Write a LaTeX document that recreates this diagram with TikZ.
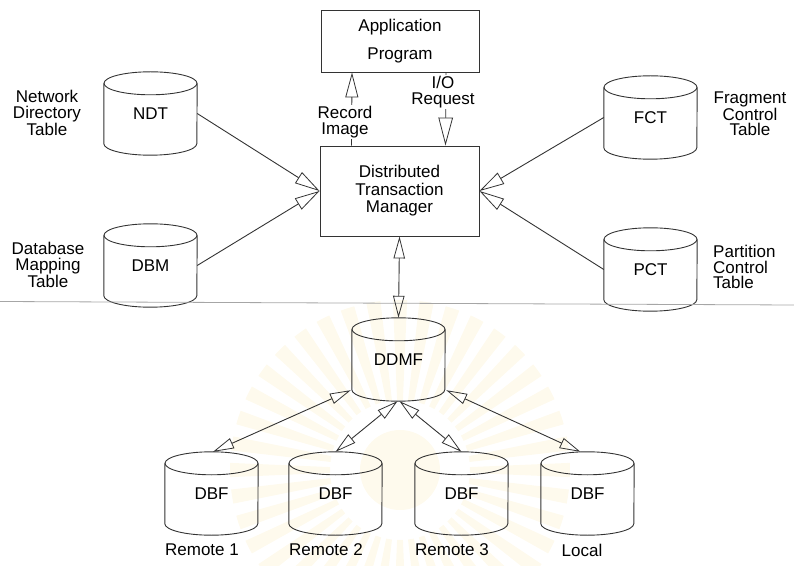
\documentclass[tikz,border=0pt]{standalone}
\usepackage{fontspec}
\setmainfont{Liberation Sans}
\usetikzlibrary{arrows.meta,calc}

\definecolor{ink}{gray}{0.2}
\definecolor{rule}{gray}{0.65}
\definecolor{ray}{RGB}{250,236,190}

\tikzset{
  line/.style={draw=ink, line width=0.9pt},
  boxn/.style={line, rectangle, inner sep=0pt, align=center, font=\fontsize{17}{17.5}\selectfont},
  cylbox/.style={rectangle, draw=none, minimum width=93pt, minimum height=83pt, inner sep=0pt, font=\fontsize{17}{16}\selectfont},
  lbl/.style={align=center, inner sep=1pt, font=\fontsize{17}{15.5}\selectfont},
  arr/.style={line, -{Triangle[open, length=#1, width'=0pt 0.52, line width=0.8pt]}},
  arr/.default=22pt,
  darr/.style={line, {Triangle[open, length=#1, width'=0pt 0.52, line width=0.8pt]}-{Triangle[open, length=#1, width'=0pt 0.52, line width=0.8pt]}},
  darr/.default=20pt,
}

% database drum: name, centre x, top y, caption
\newcommand\dbcyl[4]{%
  \node[cylbox] (#1) at (#2,#3-41.5) {#4};
  \draw[line] ([yshift=-11.5pt]#1.north) ellipse[x radius=46.5pt, y radius=11.5pt];
  \draw[line] ([yshift=-11.5pt]#1.north west) -- ([yshift=11.5pt]#1.south west)
    arc[start angle=180, end angle=360, x radius=46.5pt, y radius=11.5pt]
    -- ([yshift=-11.5pt]#1.north east);
}

\begin{document}
\begin{tikzpicture}[x=1pt, y=1pt]
\useasboundingbox (0,0) rectangle (794,565);

% faint emblem rays behind the lower half
\begin{scope}[opacity=0.28]
  \foreach \a in {0,9,...,351}{
    \fill[ray] (400,95) ++(\a-2.4:70) arc[start angle=\a-2.4, end angle=\a+2.4, radius=70]
      -- ++(\a+2.4:100) arc[start angle=\a+2.4, end angle=\a-2.4, radius=170] -- cycle;
  }
  \fill[ray] (400,95) circle[radius=40];
\end{scope}

% boxes
\node[boxn, minimum width=158pt, minimum height=62pt] (app) at (400,524) {Application\\[11pt]Program};
\node[boxn, minimum width=159pt, minimum height=90pt] (dtm) at (399.5,374) {Distributed\\Transaction\\Manager};

% drums
\dbcyl{ndt}{150.5}{493}{NDT}
\dbcyl{dbm}{150.5}{341}{DBM}
\dbcyl{fct}{650.5}{489}{FCT}
\dbcyl{pct}{650.5}{337}{PCT}
\dbcyl{ddmf}{398.5}{247}{DDMF}
\dbcyl{rone}{211.5}{113}{DBF}
\dbcyl{rtwo}{335.5}{113}{DBF}
\dbcyl{rthree}{461.5}{113}{DBF}
\dbcyl{loc}{587.5}{113}{DBF}

% captions
\node[lbl] (cndt) at (47,452) {Network\\Directory\\Table};
\node[lbl] (cdbm) at (48,300) {Database\\Mapping\\Table};
\node[lbl] (cfct) at (750,451) {Fragment\\Control\\Table};
\node[lbl, align=left, anchor=west] (cpct) at (712,298) {Partition\\Control\\Table};
\node[lbl] (crone) at (202,15) {Remote 1};
\node[lbl] (crtwo) at (326,15) {Remote 2};
\node[lbl] (crthree) at (452,15) {Remote 3};
\node[lbl] (cloc) at (582,15) {Local};

% separator
\draw[rule, line width=0.8pt] (0,263.5) -- (794,260);

% links between program and manager
\draw[arr=25pt] ([xshift=-48pt]dtm.north) -- ([xshift=-48pt]app.south);
\draw[arr=28pt] ([xshift=46pt]app.south) -- ([xshift=46pt]dtm.north);
\node[lbl, fill=white] (rec) at (345,443) {Record\\Image};
\node[lbl, fill=white] (io) at (443,473) {I/O\\Request};

% control tables into the manager
\draw[arr=25pt] (ndt.east) -- (dtm.west);
\draw[arr=25pt] (dbm.east) -- (dtm.west);
\draw[arr=25pt] (fct.west) -- (dtm.east);
\draw[arr=25pt] (pct.west) -- (dtm.east);

% manager to directory file
\draw[darr=22pt] (dtm.south) -- (ddmf.north);

% directory file to the data files
\draw[darr=21pt] ([xshift=-1pt,yshift=11pt]ddmf.south west) -- ([xshift=1.5pt]rone.north);
\draw[darr=21pt] ([xshift=-1pt]ddmf.south) -- (rtwo.north);
\draw[darr=21pt] ([xshift=1pt]ddmf.south) -- (rthree.north);
\draw[darr=21pt] ([xshift=1pt,yshift=11pt]ddmf.south east) -- ([xshift=-7pt]loc.north);
\end{tikzpicture}
\end{document}
